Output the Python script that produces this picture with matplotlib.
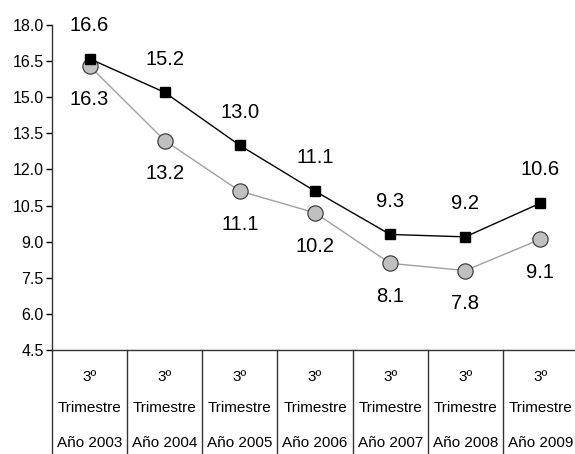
import numpy as np
import matplotlib.pyplot as plt
import matplotlib.transforms as mtransforms

plt.rcParams['font.family'] = ['Liberation Sans', 'DejaVu Sans']

years = ["2003", "2004", "2005", "2006", "2007", "2008", "2009"]
serie_a = [16.6, 15.2, 13.0, 11.1, 9.3, 9.2, 10.6]
serie_b = [16.3, 13.2, 11.1, 10.2, 8.1, 7.8, 9.1]
yticks = [4.5, 6.0, 7.5, 9.0, 10.5, 12.0, 13.5, 15.0, 16.5, 18.0]

fig = plt.figure(figsize=(5.75, 4.54), dpi=100)
ax = fig.add_axes([52 / 575, 1 - 350 / 454, 526 / 575, 325 / 454])

x = np.arange(len(years)) + 0.5

ax.plot(x, serie_b, color='#a0a0a0', lw=1, marker='o', ms=11,
        mfc='#c0c0c0', mec='#303030', mew=0.8, zorder=2)
ax.plot(x, serie_a, color='black', lw=1, marker='s', ms=7.5,
        mfc='black', mec='black', zorder=3)

for xi, v in zip(x, serie_a):
    ax.annotate(f"{v:.1f}", (xi, v), xytext=(0, 24), textcoords='offset points',
                ha='center', va='center', fontsize=14.5)
for xi, v in zip(x, serie_b):
    ax.annotate(f"{v:.1f}", (xi, v), xytext=(0, -24), textcoords='offset points',
                ha='center', va='center', fontsize=14.5)

ax.set_xlim(0, len(years))
ax.set_ylim(4.5, 18.0)
ax.set_yticks(yticks)
ax.set_yticklabels([f"{t:.1f}" for t in yticks], fontsize=11.5)
ax.set_xticks([])
ax.tick_params(axis='y', direction='out', length=4, width=1, pad=2)

for s in ['top', 'right']:
    ax.spines[s].set_visible(False)
ax.spines['left'].set_linewidth(1)
ax.spines['bottom'].set_linewidth(1)
ax.spines['left'].set_color('#333333')
ax.spines['bottom'].set_color('#333333')

# category table under the axis
trans = mtransforms.blended_transform_factory(ax.transData, ax.transAxes)
for i in range(len(years) + 1):
    ax.plot([i, i], [0, -0.33], color='#333333', lw=1, transform=trans,
            clip_on=False)
for xi, yr in zip(x, years):
    ax.text(xi, -0.083, "3º", transform=trans, ha='center', va='center', fontsize=11)
    ax.text(xi, -0.178, "Trimestre", transform=trans, ha='center', va='center', fontsize=11)
    ax.text(xi, -0.286, f"Año {yr}", transform=trans, ha='center', va='center', fontsize=11)

plt.savefig("out.png", dpi=100)
